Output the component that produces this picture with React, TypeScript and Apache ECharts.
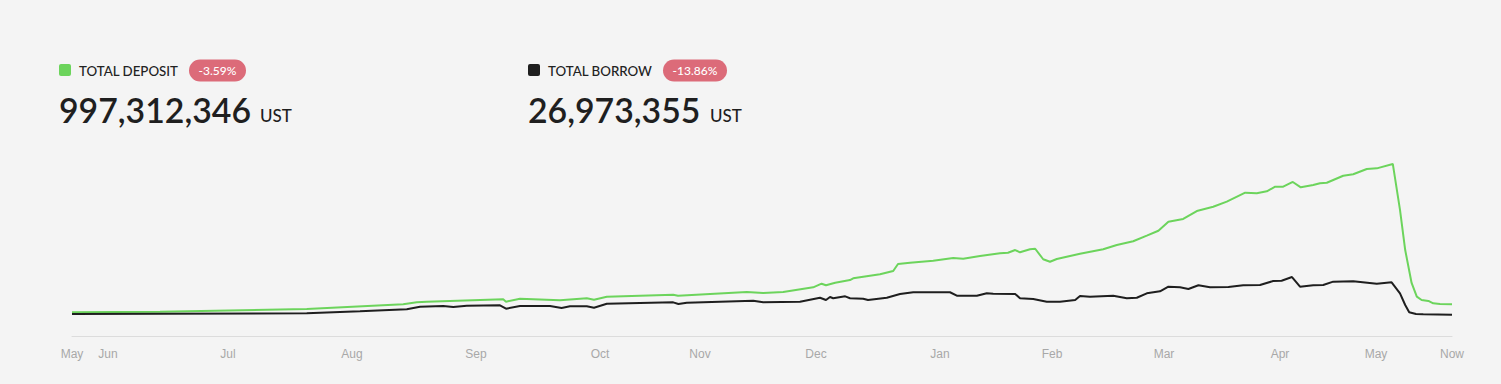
import React, { useEffect, useRef } from "react";
import * as echarts from "echarts";

// x values are day indices of the data rows (0 = first row, 345 = "Now")
const tickDays = [0, 9, 39, 70, 101, 132, 157, 186, 217, 245, 273, 302, 326, 345];
const tickLabels = ["May", "Jun", "Jul", "Aug", "Sep", "Oct", "Nov", "Dec", "Jan", "Feb", "Mar", "Apr", "May", "Now"];

// Total deposit (billions UST)
const depositDays = [
  0, 22, 58.7, 82.8, 86.2, 88.7, 107.8, 108.5, 112, 122, 128.7, 130.5, 133.7, 150.3, 151.5,
  168.7, 172.8, 177.8, 185.3, 187.4, 188.5, 190.8, 194.5, 195.3, 202, 205.3, 206.5, 209.5,
  215.3, 220.3, 222.8, 227, 232, 234, 235.8, 237, 239.5, 240.8, 242.8, 244.5, 246.2, 252,
  257.8, 261.2, 265.3, 268.7, 271.6, 274.1, 277.8, 281.2, 285.3, 288.7, 293.3, 296.2, 298.7,
  300.8, 302.8, 305.2, 307.2, 310.3, 312, 313.7, 317.8, 320.3, 323.7, 326.2, 330.2, 332,
  333.3, 334.9, 336.2, 337.4, 339.1, 340.3, 342, 345,
];
const depositValues = [
  0.25, 0.31, 0.56, 1.0, 1.18, 1.24, 1.46, 1.24, 1.52, 1.37, 1.56, 1.43, 1.71, 1.89, 1.8,
  2.15, 2.05, 2.15, 2.58, 2.92, 2.77, 3.01, 3.26, 3.42, 3.8, 4.1, 4.76, 4.88,
  5.07, 5.32, 5.25, 5.5, 5.76, 5.81, 6.06, 5.85, 6.13, 6.18, 5.2, 4.97, 5.22, 5.72,
  6.13, 6.53, 6.88, 7.4, 7.86, 8.7, 8.96, 9.7, 10.1, 10.57, 11.41, 11.35, 11.54,
  11.97, 11.97, 12.41, 11.91, 12.13, 12.29, 12.34, 12.99, 13.13, 13.62, 13.68, 14.09, 9.8,
  6.06, 2.99, 1.71, 1.4, 1.31, 1.09, 1.03, 0.997,
];

// Total borrow (billions UST)
const borrowDays = [
  0, 58.7, 72, 83.7, 87, 92.8, 95.3, 98.7, 107, 108.5, 112, 119.5, 122.4, 124.5, 128.7,
  130.5, 133.7, 150.3, 151.6, 153.7, 170.3, 172.8, 182, 187, 188.5, 189.5, 190.3, 193.3,
  194.5, 197.8, 199, 203.7, 207, 210.3, 219.5, 221.2, 226.2, 228.7, 230.3, 235.8, 237,
  240.3, 243.7, 247, 250.8, 252, 254.5, 260.3, 263.7, 266.2, 268.7, 272, 274.1, 277,
  279.1, 281.6, 284.5, 289.1, 292.8, 297, 300.3, 302.4, 305, 307, 310.3, 312.8, 315.3,
  320.3, 326.2, 329.9, 332, 333.3, 334.3, 336, 337.8, 345,
];
const borrowValues = [
  0.09, 0.16, 0.35, 0.53, 0.77, 0.84, 0.75, 0.87, 0.9, 0.59, 0.84, 0.84, 0.65, 0.81, 0.81,
  0.68, 1.05, 1.18, 1.03, 1.15, 1.33, 1.18, 1.24, 1.61, 1.4, 1.68, 1.56, 1.74,
  1.56, 1.52, 1.4, 1.61, 1.96, 2.12, 2.12, 1.8, 1.8, 2.02, 1.99, 1.96, 1.56,
  1.49, 1.24, 1.24, 1.4, 1.77, 1.71, 1.8, 1.56, 1.61, 2.02, 2.21, 2.64, 2.58,
  2.43, 2.77, 2.58, 2.61, 2.77, 2.8, 3.17, 3.2, 3.54, 2.64, 2.77, 2.8, 3.11,
  3.14, 2.92, 3.05, 2.02, 0.93, 0.25, 0.1, 0.07, 0.027,
];

const depositTotal = "997,312,346";
const depositChange = "-3.59%";
const borrowTotal = "26,973,355";
const borrowChange = "-13.86%";

const GREEN = "#6cd45c";
const DARK = "#1e1e1e";
const BADGE = "#dc6b79";
const FONT = "Lato, 'Noto Sans', sans-serif";

function header(
  x: number, color: string, label: string, change: string,
  badgeX: number, badgeW: number, total: string, numW: number
) {
  return [
    { type: "rect", shape: { x, y: 64, width: 12, height: 12, r: 2 }, style: { fill: color } },
    {
      type: "text", x: x + 20, y: 70.5,
      style: { text: label, font: `500 13.3px ${FONT}`, fill: "#222", align: "left", verticalAlign: "middle" },
    },
    { type: "rect", shape: { x: x + badgeX, y: 59.5, width: badgeW, height: 22, r: 11 }, style: { fill: BADGE } },
    {
      type: "text", x: x + badgeX + badgeW / 2, y: 70.5,
      style: { text: change, font: `500 12px ${FONT}`, fill: "#fff", align: "center", verticalAlign: "middle" },
    },
    {
      type: "text", x, y: 110,
      style: { text: total, font: `600 33.8px ${FONT}`, fill: "#1f1f1f", align: "left", verticalAlign: "middle" },
    },
    {
      type: "text", x: x + numW, y: 115.5,
      style: { text: "UST", font: `500 17px ${FONT}`, fill: "#1f1f1f", align: "left", verticalAlign: "middle" },
    },
  ];
}

export default function App() {
  const ref = useRef<HTMLDivElement>(null);
  useEffect(() => {
    document.body.style.margin = "0";
    document.body.style.background = "#f4f4f4";
    const chart = echarts.init(ref.current!, undefined, { renderer: "svg" });
    const labelMap: Record<number, string> = {};
    tickDays.forEach((d, i) => (labelMap[d] = tickLabels[i]));
    chart.setOption({
      animation: false,
      backgroundColor: "#f4f4f4",
      grid: { left: 72, right: 49, top: 159.56, bottom: 48, containLabel: false },
      xAxis: {
        type: "value",
        min: 0,
        max: 345,
        interval: 1,
        axisLine: { show: true, onZero: false, lineStyle: { color: "#dcdcdc", width: 1 } },
        axisTick: { show: false },
        splitLine: { show: false },
        axisLabel: {
          color: "#a8a8a8",
          fontSize: 12,
          fontFamily: "Helvetica, Arial, 'Liberation Sans', sans-serif",
          margin: 12,
          showMinLabel: true,
          showMaxLabel: true,
          formatter: (v: number) => labelMap[v] ?? "",
        },
      },
      yAxis: { type: "value", min: -1.96, max: 14.5, show: false, splitLine: { show: false } },
      series: [
        {
          type: "line",
          data: depositDays.map((d, i) => [d, depositValues[i]]),
          showSymbol: false,
          lineStyle: { color: GREEN, width: 2 },
          itemStyle: { color: GREEN },
        },
        {
          type: "line",
          data: borrowDays.map((d, i) => [d, borrowValues[i]]),
          showSymbol: false,
          lineStyle: { color: DARK, width: 2 },
          itemStyle: { color: DARK },
        },
      ],
      graphic: [
        ...header(59, GREEN, "TOTAL DEPOSIT", depositChange, 130, 57, depositTotal, 201),
        ...header(528, DARK, "TOTAL BORROW", borrowChange, 135, 64, borrowTotal, 182),
      ],
    });
    return () => chart.dispose();
  }, []);
  return (
    <div
      ref={ref}
      style={{ position: "fixed", left: 0, top: 0, width: 1501, height: 384, background: "#f4f4f4" }}
    />
  );
}
